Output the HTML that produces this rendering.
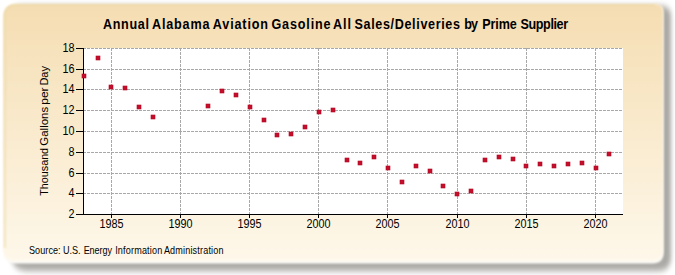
<!DOCTYPE html>
<html><head><meta charset="utf-8"><style>
html,body{margin:0;padding:0;background:#fff;width:675px;height:275px;overflow:hidden}
svg{display:block}
text{font-family:"Liberation Sans",sans-serif;fill:#000}
.tk{font-size:12px}
</style></head><body>
<svg width="675" height="275" viewBox="0 0 675 275">
<defs>
<linearGradient id="bg" x1="0" y1="0" x2="0" y2="1">
<stop offset="0" stop-color="#f5ddb2"/>
<stop offset="1" stop-color="#fef8ea"/>
</linearGradient>
<filter id="sh" x="-5%" y="-10%" width="110%" height="120%"><feGaussianBlur stdDeviation="2.2 3.2"/></filter>
<filter id="soft" x="-2%" y="-2%" width="104%" height="104%"><feGaussianBlur stdDeviation="1.0"/></filter>
</defs>
<path d="M23,6 L661,6 Q671,6 671,16 L671,257 Q671,271 657,271 L29,271 Q11,271 11,253 L11,18 Q11,6 23,6 Z" fill="#aaa9a5" filter="url(#sh)"/>
<path d="M16.5,4 L654.5,4 Q663.5,4 663.5,13 L663.5,252.5 Q663.5,263.5 652.5,263.5 L15.5,263.5 Q3.5,263.5 3.5,251.5 L3.5,17 Q3.5,4 16.5,4 Z" fill="#fdfbf6" filter="url(#soft)"/>
<path d="M16.5,4 L655,4 Q663,4 663,12 L663,250.8 Q663,260.8 653,260.8 L14.5,260.8 Q3.5,260.8 3.5,249.8 L3.5,17 Q3.5,4 16.5,4 Z" fill="url(#bg)" filter="url(#soft)"/>
<path d="M4.8,248 L4.8,17 Q4.8,5.3 17,5.3 L655,5.3" fill="none" stroke="#e9d9a8" stroke-width="1.6" opacity="0.8" filter="url(#soft)"/>
<text transform="translate(102.98,29.0) scale(0.9,1)" font-weight="bold" font-size="14.0" letter-spacing="0.758">Annual</text><text transform="translate(151.99,29.0) scale(0.9,1)" font-weight="bold" font-size="14.0" letter-spacing="0.929">Alabama</text><text transform="translate(212.78,29.0) scale(0.9,1)" font-weight="bold" font-size="14.0" letter-spacing="0.962">Aviation</text><text transform="translate(271.49,29.0) scale(0.9,1)" font-weight="bold" font-size="14.0" letter-spacing="0.941">Gasoline</text><text transform="translate(333.08,29.0) scale(0.9,1)" font-weight="bold" font-size="14.0" letter-spacing="1.058">All</text><text transform="translate(354.54,29.0) scale(0.9,1)" font-weight="bold" font-size="14.0" letter-spacing="0.712">Sales/Deliveries</text><text transform="translate(464.27,29.0) scale(0.9,1)" font-weight="bold" font-size="14.0" letter-spacing="-1.118">by</text><text transform="translate(482.25,29.0) scale(0.9,1)" font-weight="bold" font-size="14.0" letter-spacing="-0.095">Prime</text><text transform="translate(520.54,29.0) scale(0.9,1)" font-weight="bold" font-size="14.0" letter-spacing="-0.438">Supplier</text>
<rect x="83" y="48" width="540" height="166" fill="#fff"/>
<line x1="83" y1="193.5" x2="623" y2="193.5" stroke="#a8a8a8" stroke-width="1" stroke-dasharray="3,1"/>
<line x1="83" y1="173.5" x2="623" y2="173.5" stroke="#a8a8a8" stroke-width="1" stroke-dasharray="3,1"/>
<line x1="83" y1="152.5" x2="623" y2="152.5" stroke="#a8a8a8" stroke-width="1" stroke-dasharray="3,1"/>
<line x1="83" y1="131.5" x2="623" y2="131.5" stroke="#a8a8a8" stroke-width="1" stroke-dasharray="3,1"/>
<line x1="83" y1="110.5" x2="623" y2="110.5" stroke="#a8a8a8" stroke-width="1" stroke-dasharray="3,1"/>
<line x1="83" y1="89.5" x2="623" y2="89.5" stroke="#a8a8a8" stroke-width="1" stroke-dasharray="3,1"/>
<line x1="83" y1="69.5" x2="623" y2="69.5" stroke="#a8a8a8" stroke-width="1" stroke-dasharray="3,1"/>
<line x1="83" y1="48.5" x2="623" y2="48.5" stroke="#a8a8a8" stroke-width="1" stroke-dasharray="3,1"/>
<line x1="111.5" y1="48" x2="111.5" y2="214" stroke="#a8a8a8" stroke-width="1" stroke-dasharray="3,1"/>
<line x1="180.5" y1="48" x2="180.5" y2="214" stroke="#a8a8a8" stroke-width="1" stroke-dasharray="3,1"/>
<line x1="249.5" y1="48" x2="249.5" y2="214" stroke="#a8a8a8" stroke-width="1" stroke-dasharray="3,1"/>
<line x1="318.5" y1="48" x2="318.5" y2="214" stroke="#a8a8a8" stroke-width="1" stroke-dasharray="3,1"/>
<line x1="387.5" y1="48" x2="387.5" y2="214" stroke="#a8a8a8" stroke-width="1" stroke-dasharray="3,1"/>
<line x1="457.5" y1="48" x2="457.5" y2="214" stroke="#a8a8a8" stroke-width="1" stroke-dasharray="3,1"/>
<line x1="526.5" y1="48" x2="526.5" y2="214" stroke="#a8a8a8" stroke-width="1" stroke-dasharray="3,1"/>
<line x1="595.5" y1="48" x2="595.5" y2="214" stroke="#a8a8a8" stroke-width="1" stroke-dasharray="3,1"/>
<line x1="83.5" y1="48" x2="83.5" y2="215" stroke="#000" stroke-width="1"/>
<line x1="83" y1="214.5" x2="623" y2="214.5" stroke="#000" stroke-width="1"/>
<line x1="76" y1="214.5" x2="83" y2="214.5" stroke="#000" stroke-width="1"/>
<text x="74.5" y="218.3" text-anchor="end" class="tk" textLength="6.01" lengthAdjust="spacingAndGlyphs">2</text>
<line x1="76" y1="193.5" x2="83" y2="193.5" stroke="#000" stroke-width="1"/>
<text x="74.5" y="197.3" text-anchor="end" class="tk" textLength="6.01" lengthAdjust="spacingAndGlyphs">4</text>
<line x1="76" y1="173.5" x2="83" y2="173.5" stroke="#000" stroke-width="1"/>
<text x="74.5" y="177.3" text-anchor="end" class="tk" textLength="6.01" lengthAdjust="spacingAndGlyphs">6</text>
<line x1="76" y1="152.5" x2="83" y2="152.5" stroke="#000" stroke-width="1"/>
<text x="74.5" y="156.3" text-anchor="end" class="tk" textLength="6.01" lengthAdjust="spacingAndGlyphs">8</text>
<line x1="76" y1="131.5" x2="83" y2="131.5" stroke="#000" stroke-width="1"/>
<text x="74.5" y="135.3" text-anchor="end" class="tk" textLength="12.01" lengthAdjust="spacingAndGlyphs">10</text>
<line x1="76" y1="110.5" x2="83" y2="110.5" stroke="#000" stroke-width="1"/>
<text x="74.5" y="114.3" text-anchor="end" class="tk" textLength="12.01" lengthAdjust="spacingAndGlyphs">12</text>
<line x1="76" y1="89.5" x2="83" y2="89.5" stroke="#000" stroke-width="1"/>
<text x="74.5" y="93.3" text-anchor="end" class="tk" textLength="12.01" lengthAdjust="spacingAndGlyphs">14</text>
<line x1="76" y1="69.5" x2="83" y2="69.5" stroke="#000" stroke-width="1"/>
<text x="74.5" y="73.3" text-anchor="end" class="tk" textLength="12.01" lengthAdjust="spacingAndGlyphs">16</text>
<line x1="76" y1="48.5" x2="83" y2="48.5" stroke="#000" stroke-width="1"/>
<text x="74.5" y="52.3" text-anchor="end" class="tk" textLength="12.01" lengthAdjust="spacingAndGlyphs">18</text>
<line x1="111.5" y1="214" x2="111.5" y2="218" stroke="#000" stroke-width="1"/>
<text x="111.5" y="227.5" text-anchor="middle" class="tk" textLength="24.02" lengthAdjust="spacingAndGlyphs">1985</text>
<line x1="180.5" y1="214" x2="180.5" y2="218" stroke="#000" stroke-width="1"/>
<text x="180.5" y="227.5" text-anchor="middle" class="tk" textLength="24.02" lengthAdjust="spacingAndGlyphs">1990</text>
<line x1="249.5" y1="214" x2="249.5" y2="218" stroke="#000" stroke-width="1"/>
<text x="249.5" y="227.5" text-anchor="middle" class="tk" textLength="24.02" lengthAdjust="spacingAndGlyphs">1995</text>
<line x1="318.5" y1="214" x2="318.5" y2="218" stroke="#000" stroke-width="1"/>
<text x="318.5" y="227.5" text-anchor="middle" class="tk" textLength="24.02" lengthAdjust="spacingAndGlyphs">2000</text>
<line x1="387.5" y1="214" x2="387.5" y2="218" stroke="#000" stroke-width="1"/>
<text x="387.5" y="227.5" text-anchor="middle" class="tk" textLength="24.02" lengthAdjust="spacingAndGlyphs">2005</text>
<line x1="457.5" y1="214" x2="457.5" y2="218" stroke="#000" stroke-width="1"/>
<text x="457.5" y="227.5" text-anchor="middle" class="tk" textLength="24.02" lengthAdjust="spacingAndGlyphs">2010</text>
<line x1="526.5" y1="214" x2="526.5" y2="218" stroke="#000" stroke-width="1"/>
<text x="526.5" y="227.5" text-anchor="middle" class="tk" textLength="24.02" lengthAdjust="spacingAndGlyphs">2015</text>
<line x1="595.5" y1="214" x2="595.5" y2="218" stroke="#000" stroke-width="1"/>
<text x="595.5" y="227.5" text-anchor="middle" class="tk" textLength="24.02" lengthAdjust="spacingAndGlyphs">2020</text>
<rect x="82" y="74" width="4" height="4" fill="#c50d2c" stroke="#b00822" stroke-width="0.6"/>
<rect x="96" y="56" width="4" height="4" fill="#c50d2c" stroke="#b00822" stroke-width="0.6"/>
<rect x="109" y="85" width="4" height="4" fill="#c50d2c" stroke="#b00822" stroke-width="0.6"/>
<rect x="123" y="86" width="4" height="4" fill="#c50d2c" stroke="#b00822" stroke-width="0.6"/>
<rect x="137" y="105" width="4" height="4" fill="#c50d2c" stroke="#b00822" stroke-width="0.6"/>
<rect x="151" y="115" width="4" height="4" fill="#c50d2c" stroke="#b00822" stroke-width="0.6"/>
<rect x="206" y="104" width="4" height="4" fill="#c50d2c" stroke="#b00822" stroke-width="0.6"/>
<rect x="220" y="89" width="4" height="4" fill="#c50d2c" stroke="#b00822" stroke-width="0.6"/>
<rect x="234" y="93" width="4" height="4" fill="#c50d2c" stroke="#b00822" stroke-width="0.6"/>
<rect x="248" y="105" width="4" height="4" fill="#c50d2c" stroke="#b00822" stroke-width="0.6"/>
<rect x="262" y="118" width="4" height="4" fill="#c50d2c" stroke="#b00822" stroke-width="0.6"/>
<rect x="275" y="133" width="4" height="4" fill="#c50d2c" stroke="#b00822" stroke-width="0.6"/>
<rect x="289" y="132" width="4" height="4" fill="#c50d2c" stroke="#b00822" stroke-width="0.6"/>
<rect x="303" y="125" width="4" height="4" fill="#c50d2c" stroke="#b00822" stroke-width="0.6"/>
<rect x="317" y="110" width="4" height="4" fill="#c50d2c" stroke="#b00822" stroke-width="0.6"/>
<rect x="331" y="108" width="4" height="4" fill="#c50d2c" stroke="#b00822" stroke-width="0.6"/>
<rect x="345" y="158" width="4" height="4" fill="#c50d2c" stroke="#b00822" stroke-width="0.6"/>
<rect x="358" y="161" width="4" height="4" fill="#c50d2c" stroke="#b00822" stroke-width="0.6"/>
<rect x="372" y="155" width="4" height="4" fill="#c50d2c" stroke="#b00822" stroke-width="0.6"/>
<rect x="386" y="166" width="4" height="4" fill="#c50d2c" stroke="#b00822" stroke-width="0.6"/>
<rect x="400" y="180" width="4" height="4" fill="#c50d2c" stroke="#b00822" stroke-width="0.6"/>
<rect x="414" y="164" width="4" height="4" fill="#c50d2c" stroke="#b00822" stroke-width="0.6"/>
<rect x="428" y="169" width="4" height="4" fill="#c50d2c" stroke="#b00822" stroke-width="0.6"/>
<rect x="441" y="184" width="4" height="4" fill="#c50d2c" stroke="#b00822" stroke-width="0.6"/>
<rect x="455" y="192" width="4" height="4" fill="#c50d2c" stroke="#b00822" stroke-width="0.6"/>
<rect x="469" y="189" width="4" height="4" fill="#c50d2c" stroke="#b00822" stroke-width="0.6"/>
<rect x="483" y="158" width="4" height="4" fill="#c50d2c" stroke="#b00822" stroke-width="0.6"/>
<rect x="497" y="155" width="4" height="4" fill="#c50d2c" stroke="#b00822" stroke-width="0.6"/>
<rect x="511" y="157" width="4" height="4" fill="#c50d2c" stroke="#b00822" stroke-width="0.6"/>
<rect x="524" y="164" width="4" height="4" fill="#c50d2c" stroke="#b00822" stroke-width="0.6"/>
<rect x="538" y="162" width="4" height="4" fill="#c50d2c" stroke="#b00822" stroke-width="0.6"/>
<rect x="552" y="164" width="4" height="4" fill="#c50d2c" stroke="#b00822" stroke-width="0.6"/>
<rect x="566" y="162" width="4" height="4" fill="#c50d2c" stroke="#b00822" stroke-width="0.6"/>
<rect x="580" y="161" width="4" height="4" fill="#c50d2c" stroke="#b00822" stroke-width="0.6"/>
<rect x="594" y="166" width="4" height="4" fill="#c50d2c" stroke="#b00822" stroke-width="0.6"/>
<rect x="607" y="152" width="4" height="4" fill="#c50d2c" stroke="#b00822" stroke-width="0.6"/>
<text transform="translate(47.5,195.5) rotate(-90)" x="-0.24" y="0" font-size="11.6" textLength="47.84" lengthAdjust="spacingAndGlyphs">Thousand</text><text transform="translate(47.5,145.1) rotate(-90)" x="-0.57" y="0" font-size="11.6" textLength="38.79" lengthAdjust="spacingAndGlyphs">Gallons</text><text transform="translate(47.5,104) rotate(-90)" x="-0.78" y="0" font-size="11.6" textLength="17.38" lengthAdjust="spacingAndGlyphs">per</text><text transform="translate(47.5,84.7) rotate(-90)" x="-0.90" y="0" font-size="11.6" textLength="19.52" lengthAdjust="spacingAndGlyphs">Day</text>
<text transform="translate(28.99,253.5) scale(0.84,1)" font-size="10.8" letter-spacing="0.075">Source:</text><text transform="translate(63.10,253.5) scale(0.84,1)" font-size="10.8" letter-spacing="-0.044">U.S.</text><text transform="translate(83.65,253.5) scale(0.84,1)" font-size="10.8" letter-spacing="-0.091">Energy</text><text transform="translate(115.16,253.5) scale(0.84,1)" font-size="10.8" letter-spacing="0.207">Information</text><text transform="translate(163.88,253.5) scale(0.84,1)" font-size="10.8" letter-spacing="0.204">Administration</text>
</svg>
</body></html>
